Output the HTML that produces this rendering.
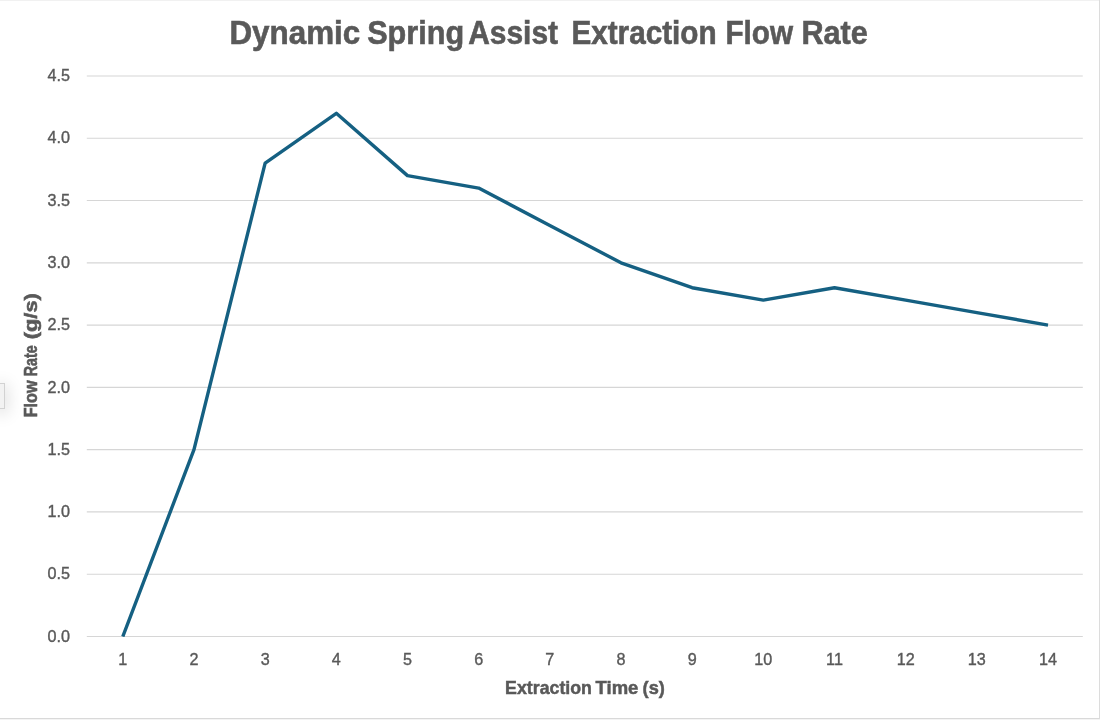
<!DOCTYPE html>
<html><head><meta charset="utf-8"><title>Chart</title>
<style>
html,body{margin:0;padding:0;background:#fff;}
body{width:1100px;height:720px;overflow:hidden;position:relative;font-family:"Liberation Sans",sans-serif;}
svg{position:absolute;left:0;top:0;display:block;will-change:transform;}
text{font-family:"Liberation Sans",sans-serif;fill:#595959;}
.tick{stroke:#595959;stroke-width:0.4px;}
.t1{stroke:#595959;stroke-width:0.6px;}
.t2{stroke:#595959;stroke-width:0.5px;}
.t3{stroke:#595959;stroke-width:0.6px;}
.tick{font-size:17.4px;}
#tab{position:absolute;left:-2px;top:383px;width:5px;height:24px;background:#f2f2f2;border:1px solid #d2d2d2;box-shadow:0 3px 16px 2px rgba(0,0,0,0.15);}
</style></head><body>
<div id="tab"></div>
<svg width="1100" height="720" viewBox="0 0 1100 720">
<rect x="0" y="0" width="1100" height="1" fill="#f1f1f1"/>
<rect x="0" y="718" width="1100" height="1" fill="#d9d9d9"/>
<rect x="0" y="719" width="1100" height="1" fill="#f4f4f4"/>
<rect x="1099" y="0" width="1" height="719" fill="#dcdcdc"/>
<line x1="86.8" x2="1082.8" y1="636.50" y2="636.50" stroke="#d6d6d6" stroke-width="1.15"/>
<text class="tick" transform="translate(70.1,641.70) scale(0.93,1)" text-anchor="end">0.0</text>
<line x1="86.8" x2="1082.8" y1="574.22" y2="574.22" stroke="#d6d6d6" stroke-width="1.15"/>
<text class="tick" transform="translate(70.1,579.42) scale(0.93,1)" text-anchor="end">0.5</text>
<line x1="86.8" x2="1082.8" y1="511.93" y2="511.93" stroke="#d6d6d6" stroke-width="1.15"/>
<text class="tick" transform="translate(70.1,517.13) scale(0.93,1)" text-anchor="end">1.0</text>
<line x1="86.8" x2="1082.8" y1="449.65" y2="449.65" stroke="#d6d6d6" stroke-width="1.15"/>
<text class="tick" transform="translate(70.1,454.85) scale(0.93,1)" text-anchor="end">1.5</text>
<line x1="86.8" x2="1082.8" y1="387.37" y2="387.37" stroke="#d6d6d6" stroke-width="1.15"/>
<text class="tick" transform="translate(70.1,392.57) scale(0.93,1)" text-anchor="end">2.0</text>
<line x1="86.8" x2="1082.8" y1="325.08" y2="325.08" stroke="#d6d6d6" stroke-width="1.15"/>
<text class="tick" transform="translate(70.1,330.28) scale(0.93,1)" text-anchor="end">2.5</text>
<line x1="86.8" x2="1082.8" y1="262.80" y2="262.80" stroke="#d6d6d6" stroke-width="1.15"/>
<text class="tick" transform="translate(70.1,268.00) scale(0.93,1)" text-anchor="end">3.0</text>
<line x1="86.8" x2="1082.8" y1="200.52" y2="200.52" stroke="#d6d6d6" stroke-width="1.15"/>
<text class="tick" transform="translate(70.1,205.72) scale(0.93,1)" text-anchor="end">3.5</text>
<line x1="86.8" x2="1082.8" y1="138.23" y2="138.23" stroke="#d6d6d6" stroke-width="1.15"/>
<text class="tick" transform="translate(70.1,143.43) scale(0.93,1)" text-anchor="end">4.0</text>
<line x1="86.8" x2="1082.8" y1="75.95" y2="75.95" stroke="#d6d6d6" stroke-width="1.15"/>
<text class="tick" transform="translate(70.1,81.15) scale(0.93,1)" text-anchor="end">4.5</text>
<text class="tick" transform="translate(122.80,664.6) scale(0.93,1)" text-anchor="middle">1</text>
<text class="tick" transform="translate(193.97,664.6) scale(0.93,1)" text-anchor="middle">2</text>
<text class="tick" transform="translate(265.14,664.6) scale(0.93,1)" text-anchor="middle">3</text>
<text class="tick" transform="translate(336.31,664.6) scale(0.93,1)" text-anchor="middle">4</text>
<text class="tick" transform="translate(407.48,664.6) scale(0.93,1)" text-anchor="middle">5</text>
<text class="tick" transform="translate(478.65,664.6) scale(0.93,1)" text-anchor="middle">6</text>
<text class="tick" transform="translate(549.82,664.6) scale(0.93,1)" text-anchor="middle">7</text>
<text class="tick" transform="translate(620.98,664.6) scale(0.93,1)" text-anchor="middle">8</text>
<text class="tick" transform="translate(692.15,664.6) scale(0.93,1)" text-anchor="middle">9</text>
<text class="tick" transform="translate(763.32,664.6) scale(0.93,1)" text-anchor="middle">10</text>
<text class="tick" transform="translate(834.49,664.6) scale(0.93,1)" text-anchor="middle">11</text>
<text class="tick" transform="translate(905.66,664.6) scale(0.93,1)" text-anchor="middle">12</text>
<text class="tick" transform="translate(976.83,664.6) scale(0.93,1)" text-anchor="middle">13</text>
<text class="tick" transform="translate(1048.00,664.6) scale(0.93,1)" text-anchor="middle">14</text>
<clipPath id="c"><rect x="0" y="0" width="1100" height="637.10"/></clipPath>
<polyline clip-path="url(#c)" points="122.80,636.50 193.97,449.65 265.14,163.15 336.31,113.32 407.48,175.60 478.65,188.06 549.82,225.43 620.98,262.80 692.15,287.71 763.32,300.17 834.49,287.71 905.66,300.17 976.83,312.63 1048.00,325.08" fill="none" stroke="#156082" stroke-width="3.4" stroke-linejoin="round" stroke-linecap="butt"/>
<text x="229.40" y="43.8" font-size="32.4" font-weight="bold" class="t1" textLength="130.84" lengthAdjust="spacingAndGlyphs">Dynamic</text>
<text x="367.20" y="43.8" font-size="32.4" font-weight="bold" class="t1" textLength="96.96" lengthAdjust="spacingAndGlyphs">Spring</text>
<text x="468.20" y="43.8" font-size="32.4" font-weight="bold" class="t1" textLength="89.80" lengthAdjust="spacingAndGlyphs">Assist</text>
<text x="571.40" y="43.8" font-size="32.4" font-weight="bold" class="t1" textLength="145.20" lengthAdjust="spacingAndGlyphs">Extraction</text>
<text x="725.40" y="43.8" font-size="32.4" font-weight="bold" class="t1" textLength="67.60" lengthAdjust="spacingAndGlyphs">Flow</text>
<text x="801.40" y="43.8" font-size="32.4" font-weight="bold" class="t1" textLength="66.40" lengthAdjust="spacingAndGlyphs">Rate</text>
<text x="505.12" y="693.7" font-size="19" font-weight="bold" class="t2" textLength="86.80" lengthAdjust="spacingAndGlyphs">Extraction</text>
<text x="595.54" y="693.7" font-size="19" font-weight="bold" class="t2" textLength="42.84" lengthAdjust="spacingAndGlyphs">Time</text>
<text x="642.62" y="693.7" font-size="19" font-weight="bold" class="t2" textLength="22.26" lengthAdjust="spacingAndGlyphs">(s)</text>
<g transform="translate(36.7,0) rotate(-90)">
<text x="-417.34" y="0" font-size="19" font-weight="bold" class="t3" textLength="36.88" lengthAdjust="spacingAndGlyphs">Flow</text>
<text x="-376.30" y="0" font-size="19" font-weight="bold" class="t3" textLength="30.84" lengthAdjust="spacingAndGlyphs">Rate</text>
<text x="-339.30" y="0" font-size="19" font-weight="bold" class="t3" textLength="46.14" lengthAdjust="spacingAndGlyphs">(g/s)</text>
</g>
</svg>
</body></html>
